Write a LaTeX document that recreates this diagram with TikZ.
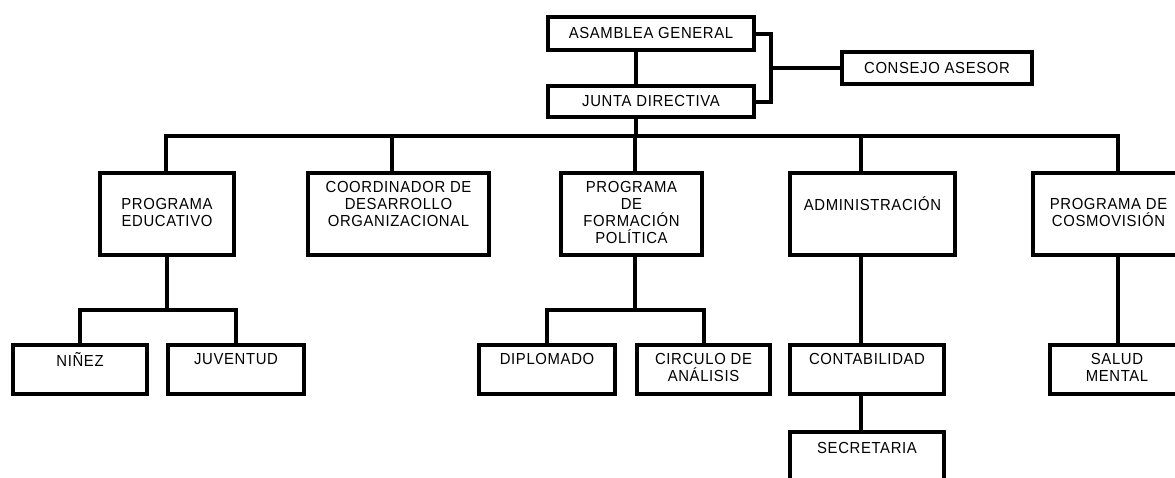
\documentclass[tikz,border=0pt]{standalone}
\usepackage{fontspec}
\setmainfont{Liberation Sans}[LetterSpace=4,FakeStretch=0.93]
\begin{document}
\begin{tikzpicture}[x=1pt,y=-1pt,
  box/.style={draw=black, line width=4.5pt, inner sep=0pt, align=center,
    font=\fontsize{16}{17}\selectfont,
    execute at begin node={\rule{0pt}{13.5pt}},
    execute at end node={\rule[-3.5pt]{0pt}{3.5pt}}},
  conn/.style={draw=black, line width=4pt}]
\useasboundingbox (0,0) rectangle (1175,477);
\fill[white] (0,0) rectangle (1175,477);
\clip (0,0) rectangle (1175,477);
% top
\node[box, minimum width=206pt, minimum height=33pt] (asam) at (651,33.5) {ASAMBLEA GENERAL};
\node[box, minimum width=206pt, minimum height=31pt] (junta) at (651,101.5) {JUNTA DIRECTIVA};
\node[box, minimum width=190pt, minimum height=32pt] (consejo) at (937,68) {CONSEJO ASESOR};
% second row
\node[box, minimum width=134pt, minimum height=82pt] (educ) at (167,214) {PROGRAMA\\EDUCATIVO};
\node[box, minimum width=181pt, minimum height=82pt] (coord) at (398.5,214) {COORDINADOR DE\\DESARROLLO\\ORGANIZACIONAL\\\mbox{}};
\node[box, minimum width=141pt, minimum height=82pt] (form) at (631.5,214) {PROGRAMA\\DE\\FORMACIÓN\\POLÍTICA};
\node[box, minimum width=165pt, minimum height=82pt] (admin) at (872.5,214) {ADMINISTRACIÓN\\\mbox{}};
\node[box, minimum width=151pt, minimum height=82pt] (cosmo) at (1108.5,214) {PROGRAMA DE\\COSMOVISIÓN};
% third row
\node[box, minimum width=134pt, minimum height=49pt] (ninez) at (80,369.5) {NIÑEZ\\\mbox{}};
\node[box, minimum width=136pt, minimum height=49pt] (juv) at (236,369.5) {JUVENTUD\\\mbox{}};
\node[box, minimum width=136pt, minimum height=49pt] (dipl) at (547,369.5) {DIPLOMADO\\\mbox{}};
\node[box, minimum width=133pt, minimum height=49pt] (circ) at (703.5,369.5) {CIRCULO DE\\ANÁLISIS};
\node[box, minimum width=154pt, minimum height=49pt] (contab) at (867,369.5) {CONTABILIDAD\\\mbox{}};
\node[box, minimum width=134pt, minimum height=49pt] (salud) at (1117,369.5) {SALUD\\MENTAL};
\node[box, minimum width=154pt, minimum height=53pt] (secret) at (867,458.5) {SECRETARIA\\\mbox{}};
% helper coordinates
\coordinate (jx) at (636,0);
\coordinate (bus) at (0,136);
\coordinate (ex) at (166,0);
\coordinate (cx) at (392,0);
\coordinate (fx) at (635,0);
\coordinate (ax) at (861,0);
\coordinate (kx) at (1118,0);
\coordinate (bx) at (771,68);
\coordinate (s1) at (167,310);
\coordinate (s2) at (635,310);
% connectors
\draw[conn] (asam.south -| jx) -- (junta.north -| jx);
\draw[conn] (junta.south -| jx) -- (bus -| jx);
\draw[conn] (educ.north -| ex) -- (bus -| ex) -- (bus -| kx) -- (cosmo.north -| kx);
\draw[conn] (bus -| cx) -- (coord.north -| cx);
\draw[conn] (bus -| fx) -- (form.north -| fx);
\draw[conn] (bus -| ax) -- (admin.north -| ax);
\draw[conn] (asam.east) -| (bx) |- (junta.east);
\draw[conn] (bx) -- (consejo.west);
\draw[conn] (educ.south) -- (s1);
\draw[conn] (ninez.north) |- (s1) -| (juv.north);
\draw[conn] (form.south -| s2) -- (s2);
\draw[conn] (dipl.north) |- (s2) -| (circ.north);
\draw[conn] (admin.south -| ax) -- (contab.north -| ax);
\draw[conn] (contab.south -| ax) -- (secret.north -| ax);
\draw[conn] (cosmo.south -| kx) -- (salud.north -| kx);
\end{tikzpicture}
\end{document}
